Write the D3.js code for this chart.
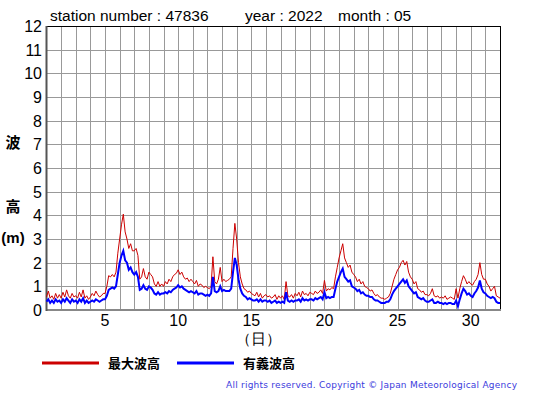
<!DOCTYPE html>
<html>
<head>
<meta charset="utf-8">
<script src="https://cdn.jsdelivr.net/npm/d3@7"></script>
<style>
  body { margin: 0; background: #fff; }
  svg { display: block; font-family: "Liberation Sans", Arial, sans-serif; }
</style>
</head>
<body>
<div id="chart"></div>
<script>
// 3-hourly values, 8 per day, May 1 00h .. May 31 21h, plus Jun 1 00h
const maxWave = [
  0.55,0.8,0.5,0.6,0.45,0.7,0.5,0.65,
  0.5,0.75,0.55,0.85,0.6,0.5,0.7,0.55,
  0.6,0.5,0.75,0.55,0.85,0.5,0.6,0.45,
  0.55,0.7,0.6,0.8,0.65,0.55,0.6,0.7,
  0.7,1.0,1.45,1.4,1.5,1.4,1.6,2.4,
  3.0,3.6,4.05,3.3,3.0,2.6,2.8,2.5,
  2.5,2.6,2.3,1.3,1.4,1.75,1.4,1.3,
  1.6,1.5,1.4,1.1,1.0,1.2,1.0,1.1,
  1.0,1.2,1.1,1.3,1.2,1.4,1.5,1.55,
  1.7,1.5,1.6,1.4,1.3,1.35,1.2,1.3,
  1.2,1.1,1.25,1.0,1.1,1.05,0.95,1.0,
  0.95,0.9,1.0,2.25,1.2,1.1,1.3,1.8,
  1.2,1.3,1.2,1.25,1.3,1.4,2.6,3.66,
  3.0,2.0,1.4,1.1,0.9,0.85,0.75,0.8,
  0.7,0.65,0.6,0.75,0.55,0.7,0.5,0.6,
  0.65,0.55,0.6,0.5,0.55,0.65,0.45,0.6,
  0.5,0.6,0.45,1.2,0.6,0.55,0.65,0.5,
  0.7,0.6,0.75,0.55,0.8,0.65,0.7,0.6,
  0.75,0.7,0.65,0.8,0.7,0.75,0.85,0.7,
  1.25,0.8,0.9,0.85,0.95,0.9,1.4,1.8,
  2.2,2.5,2.8,2.2,2.0,1.8,1.9,1.6,
  1.5,1.4,1.2,1.3,1.1,1.2,1.0,0.95,
  0.9,0.8,0.85,0.7,0.6,0.65,0.55,0.5,
  0.5,0.45,0.5,0.55,0.7,1.0,1.3,1.5,
  1.7,1.8,2.0,2.1,1.9,2.05,1.6,1.4,
  1.3,1.1,1.2,0.9,0.85,0.75,0.8,0.65,
  0.65,0.6,0.7,0.9,0.6,0.55,0.6,0.5,
  0.55,0.5,0.6,0.45,0.5,0.55,0.5,0.45,
  0.9,0.5,0.9,1.2,1.45,1.3,1.1,1.2,
  1.1,1.05,1.2,1.3,1.5,2.0,1.5,1.3,
  1.3,1.1,1.0,0.8,0.9,1.0,0.6,0.55,
  0.5
];
const sigWave = [
  0.35,0.45,0.3,0.4,0.3,0.45,0.35,0.4,
  0.3,0.45,0.35,0.5,0.4,0.3,0.45,0.35,
  0.4,0.3,0.45,0.35,0.5,0.3,0.4,0.3,
  0.35,0.4,0.35,0.45,0.4,0.35,0.4,0.45,
  0.45,0.6,0.85,0.9,0.95,0.9,1.0,1.5,
  2.0,2.3,2.5,2.1,2.0,1.7,1.8,1.6,
  1.5,1.6,1.4,0.85,0.9,1.05,0.9,0.85,
  1.0,0.95,0.85,0.7,0.65,0.75,0.65,0.7,
  0.7,0.75,0.7,0.8,0.75,0.85,0.9,0.95,
  1.05,0.95,1.0,0.9,0.85,0.8,0.75,0.8,
  0.75,0.7,0.8,0.65,0.7,0.7,0.65,0.6,
  0.65,0.6,0.7,1.4,0.8,0.75,0.8,1.0,
  0.8,0.85,0.8,0.8,0.8,0.9,1.6,2.2,
  1.9,1.3,0.9,0.7,0.6,0.55,0.45,0.5,
  0.45,0.4,0.4,0.45,0.35,0.45,0.35,0.4,
  0.4,0.35,0.4,0.3,0.35,0.4,0.3,0.35,
  0.3,0.35,0.3,0.75,0.4,0.35,0.4,0.35,
  0.4,0.4,0.45,0.35,0.5,0.4,0.45,0.4,
  0.45,0.45,0.4,0.5,0.45,0.5,0.55,0.45,
  0.75,0.5,0.55,0.5,0.55,0.55,0.9,1.2,
  1.4,1.6,1.75,1.4,1.3,1.2,1.25,1.0,
  0.95,0.9,0.8,0.85,0.7,0.75,0.65,0.6,
  0.6,0.55,0.55,0.45,0.4,0.4,0.35,0.3,
  0.3,0.3,0.35,0.35,0.45,0.65,0.8,0.9,
  1.0,1.1,1.2,1.3,1.15,1.25,1.0,0.9,
  0.8,0.7,0.75,0.55,0.5,0.45,0.5,0.4,
  0.35,0.35,0.4,0.45,0.3,0.3,0.35,0.3,
  0.3,0.25,0.3,0.25,0.3,0.3,0.25,0.25,
  0.4,0.15,0.45,0.7,0.9,0.8,0.65,0.7,
  0.6,0.55,0.7,0.8,0.95,1.25,0.9,0.75,
  0.7,0.6,0.55,0.5,0.55,0.5,0.35,0.3,
  0.3
];
const xTickLabels = [5, 10, 15, 20, 25, 30];
const yTickLabels = [0,1,2,3,4,5,6,7,8,9,10,11,12];
const legendNames = ["最大波高", "有義波高"];
const seriesColors = ["#cc0000", "#0000ff"];

const W = 555, H = 395;
const pLeft = 46.5, pRight = 500, pTop = 26, pBottom = 310;

const svg = d3.select("#chart").append("svg")
  .attr("width", W).attr("height", H);

const x = d3.scaleLinear().domain([1, 32]).range([pLeft, pRight]);
const y = d3.scaleLinear().domain([0, 12]).range([pBottom, pTop]);

// grid
const grid = svg.append("g");
grid.selectAll(".vg").data(d3.range(2, 32)).enter().append("line")
  .attr("x1", d => Math.round(x(d)) + 0.5).attr("x2", d => Math.round(x(d)) + 0.5)
  .attr("y1", pTop).attr("y2", pBottom)
  .attr("stroke", "#999").attr("stroke-width", 1);
grid.selectAll(".hg").data(d3.range(1, 12)).enter().append("line")
  .attr("x1", pLeft).attr("x2", pRight)
  .attr("y1", d => Math.round(y(d)) + 0.5).attr("y2", d => Math.round(y(d)) + 0.5)
  .attr("stroke", "#999").attr("stroke-width", 1);

// frame
svg.append("line").attr("x1", pLeft).attr("x2", pRight + 0.5).attr("y1", pTop + 0.5).attr("y2", pTop + 0.5)
  .attr("stroke", "#000");
svg.append("line").attr("x1", pRight + 0.5).attr("x2", pRight + 0.5).attr("y1", pTop).attr("y2", pBottom)
  .attr("stroke", "#000");
svg.append("line").attr("x1", pLeft).attr("x2", pRight + 1).attr("y1", pBottom).attr("y2", pBottom)
  .attr("stroke", "#888").attr("stroke-width", 2);
svg.append("line").attr("x1", pLeft).attr("x2", pLeft).attr("y1", pTop).attr("y2", pBottom + 1)
  .attr("stroke", "#555").attr("stroke-width", 2);

// series
const line = d3.line().x((d, i) => x(1 + i / 8)).y(d => y(d));
svg.append("path").datum(maxWave).attr("d", line)
  .attr("fill", "none").attr("stroke", seriesColors[0]).attr("stroke-width", 1);
svg.append("path").datum(sigWave).attr("d", line)
  .attr("fill", "none").attr("stroke", seriesColors[1]).attr("stroke-width", 2);

// axis labels
svg.selectAll(".yl").data(yTickLabels).enter().append("text")
  .attr("x", 42).attr("y", d => y(d) + 6)
  .attr("text-anchor", "end").attr("font-size", 16).text(d => d);
svg.selectAll(".xl").data(xTickLabels).enter().append("text")
  .attr("x", d => x(d)).attr("y", 326)
  .attr("text-anchor", "middle").attr("font-size", 16).text(d => d);

svg.append("text").attr("x", 258).attr("y", 344).attr("text-anchor", "middle")
  .attr("font-size", 15).text("（日）");
svg.append("text").attr("x", 13).attr("y", 148).attr("text-anchor", "middle")
  .attr("font-size", 15).attr("font-weight", "bold").attr("font-family", "Noto Sans CJK JP").text("波");
svg.append("text").attr("x", 13).attr("y", 212).attr("text-anchor", "middle")
  .attr("font-size", 15).attr("font-weight", "bold").attr("font-family", "Noto Sans CJK JP").text("高");
svg.append("text").attr("x", 13).attr("y", 243).attr("text-anchor", "middle")
  .attr("font-size", 15).attr("font-weight", "bold").text("(m)");

// title
svg.append("text").attr("x", 50).attr("y", 21).attr("font-size", 15.5).text("station number : 47836");
svg.append("text").attr("x", 245).attr("y", 21).attr("font-size", 15.5).text("year : 2022");
svg.append("text").attr("x", 338).attr("y", 21).attr("font-size", 15.5).text("month : 05");

// legend
const lg = svg.append("g");
[[42, 108], [177, 243]].forEach((p, i) => {
  lg.append("line").attr("x1", p[0]).attr("x2", p[0] + 57).attr("y1", 363).attr("y2", 363)
    .attr("stroke", seriesColors[i]).attr("stroke-width", 3);
  lg.append("text").attr("x", p[1]).attr("y", 368).attr("font-size", 13)
    .attr("font-weight", "bold").attr("font-family", "Noto Sans CJK JP").text(legendNames[i]);
});

svg.append("text").attr("x", 226).attr("y", 388).attr("font-size", 9)
  .attr("font-family", "DejaVu Sans").attr("fill", "#3b3bdd")
  .attr("textLength", 291).attr("lengthAdjust", "spacing")
  .text("All rights reserved. Copyright © Japan Meteorological Agency");
</script>
</body>
</html>
